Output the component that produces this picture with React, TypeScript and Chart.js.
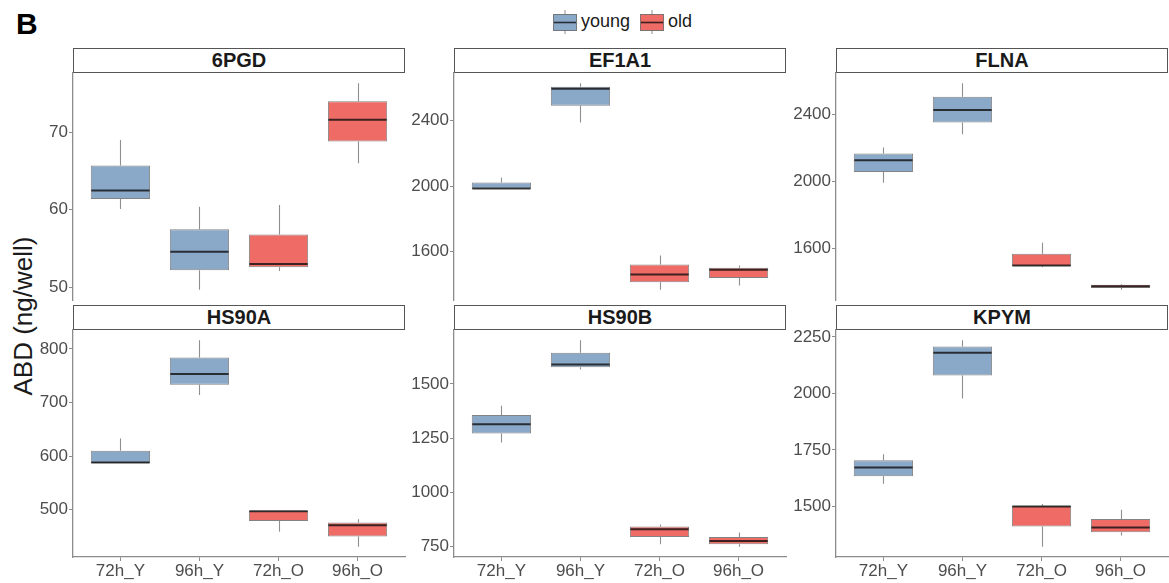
import React, { useEffect, useRef } from "react";
import { Chart, registerables } from "chart.js";

Chart.register(...registerables);

const categories = ["72h_Y", "96h_Y", "72h_O", "96h_O"];
const groupOf = ["young", "young", "old", "old"];
const genes = ["6PGD", "EF1A1", "FLNA", "HS90A", "HS90B", "KPYM"];
const legendGroups = ["young", "old"];

// per category: [lower whisker, Q1, median, Q3, upper whisker]
const box6PGD = [
  [60.1, 61.4, 62.5, 65.7, 69.0],
  [49.7, 52.2, 54.6, 57.5, 60.4],
  [52.1, 52.6, 53.0, 56.8, 60.6],
  [66.0, 68.8, 71.6, 74.0, 76.3],
];
const boxEF1A1 = [
  [1983, 1983, 1985, 2022, 2052],
  [2390, 2492, 2597, 2609, 2630],
  [1364, 1409, 1457, 1518, 1574],
  [1389, 1436, 1487, 1498, 1512],
];
const boxFLNA = [
  [1990, 2054, 2124, 2164, 2200],
  [2280, 2350, 2424, 2504, 2584],
  [1485, 1491, 1496, 1565, 1631],
  [1351, 1361, 1371, 1381, 1385],
];
const boxHS90A = [
  [587, 587, 588, 610, 633],
  [714, 733, 753, 784, 816],
  [459, 479, 497, 498, 498],
  [431, 450, 471, 476, 482],
];
const boxHS90B = [
  [1230, 1272, 1314, 1357, 1399],
  [1567, 1577, 1590, 1644, 1701],
  [761, 795, 830, 843, 852],
  [750, 761, 776, 795, 815],
];
const boxKPYM = [
  [1600, 1634, 1672, 1704, 1731],
  [1978, 2079, 2180, 2208, 2235],
  [1322, 1411, 1500, 1503, 1511],
  [1371, 1386, 1407, 1445, 1485],
];

const ticks6PGD = [50, 60, 70];
const ticksEF1A1 = [1600, 2000, 2400];
const ticksFLNA = [1600, 2000, 2400];
const ticksHS90A = [500, 600, 700, 800];
const ticksHS90B = [750, 1000, 1250, 1500];
const ticksKPYM = [1500, 1750, 2000, 2250];

const allStats = [box6PGD, boxEF1A1, boxFLNA, boxHS90A, boxHS90B, boxKPYM];
const allTicks = [ticks6PGD, ticksEF1A1, ticksFLNA, ticksHS90A, ticksHS90B, ticksKPYM];

const FILL: Record<string, string> = { young: "#8AA8C8", old: "#EE6B66" };
const FONT = "'Liberation Sans', Arial, Helvetica, sans-serif";
const AXIS_COLOR = "#8c8c8c";
const TICK_COLOR = "#4d4d4d";

const COL_LEFT = [73, 454, 836];
const PLOT_W = 332;
const STRIP_TOP = [48, 305];
const STRIP_H = 25;
const PLOT_H = 227;
const Y_AXIS_W = 50;
const PAD_V = 14;
const X_AXIS_H = 26;

Chart.defaults.font.family = FONT;

function makeBoxPlugin(stats: number[][]) {
  return {
    id: "boxWhiskers",
    beforeDatasetsDraw(chart: any) {
      const y = chart.scales.y;
      const meta = chart.getDatasetMeta(0);
      const ctx = chart.ctx;
      ctx.save();
      ctx.strokeStyle = "#8f8f8f";
      ctx.lineWidth = 1.1;
      meta.data.forEach((bar: any, i: number) => {
        const s = stats[i];
        const x = Math.round(bar.x) + 0.5;
        ctx.beginPath();
        ctx.moveTo(x, y.getPixelForValue(s[0]));
        ctx.lineTo(x, y.getPixelForValue(s[1]));
        ctx.moveTo(x, y.getPixelForValue(s[3]));
        ctx.lineTo(x, y.getPixelForValue(s[4]));
        ctx.stroke();
      });
      ctx.restore();
    },
    afterDatasetsDraw(chart: any) {
      const y = chart.scales.y;
      const meta = chart.getDatasetMeta(0);
      const ctx = chart.ctx;
      ctx.save();
      ctx.strokeStyle = "rgba(15,15,15,0.8)";
      ctx.lineWidth = 2;
      meta.data.forEach((bar: any, i: number) => {
        const s = stats[i];
        const py = y.getPixelForValue(s[2]);
        ctx.beginPath();
        ctx.moveTo(bar.x - bar.width / 2 + 0.5, py);
        ctx.lineTo(bar.x + bar.width / 2 - 0.5, py);
        ctx.stroke();
      });
      ctx.restore();
    },
  };
}

function Panel(props: { idx: number; row: number; col: number }) {
  const { idx, row, col } = props;
  const ref = useRef<HTMLCanvasElement>(null);
  const showX = row === 1;
  const stats = allStats[idx];
  const ticks = allTicks[idx];
  const plotTop = STRIP_TOP[row] + STRIP_H;
  const width = Y_AXIS_W + PLOT_W + 3;
  const height = PAD_V + PLOT_H + (showX ? X_AXIS_H : PAD_V);

  useEffect(() => {
    if (!ref.current) return;
    const lo = Math.min(...stats.map((s) => s[0]));
    const hi = Math.max(...stats.map((s) => s[4]));
    const pad = (hi - lo) * 0.05;
    const chart = new Chart(ref.current, {
      type: "bar",
      data: {
        datasets: [
          {
            data: stats.map((s, i) => ({ x: i, y: [s[1], s[3]] })) as any,
            backgroundColor: groupOf.map((g) => FILL[g]),
            borderColor: "rgba(90,90,90,0.75)",
            borderWidth: 1,
            borderSkipped: false,
            barPercentage: 0.75,
            categoryPercentage: 1,
          } as any,
        ],
      },
      options: {
        animation: false,
        responsive: false,
        maintainAspectRatio: false,
        layout: { padding: { top: PAD_V, bottom: showX ? 0 : PAD_V, left: 0, right: 3 } },
        plugins: { legend: { display: false }, tooltip: { enabled: false } },
        scales: {
          x: {
            type: "linear",
            min: -0.6,
            max: 3.6,
            offset: false,
            display: showX,
            afterBuildTicks: (s: any) => {
              s.ticks = categories.map((_, i) => ({ value: i }));
            },
            afterFit: (s: any) => {
              s.height = showX ? X_AXIS_H : 0;
            },
            ticks: {
              callback: (v: any) => categories[v] ?? "",
              color: TICK_COLOR,
              font: { size: 17, family: FONT },
              padding: 0,
              autoSkip: false,
              maxRotation: 0,
            },
            grid: {
              display: true,
              offset: false,
              drawOnChartArea: false,
              drawTicks: true,
              tickLength: 4,
              color: AXIS_COLOR,
            },
            border: { display: true, color: AXIS_COLOR, width: 1.3 },
          },
          y: {
            type: "linear",
            min: lo - pad,
            max: hi + pad,
            afterBuildTicks: (s: any) => {
              s.ticks = ticks.map((v) => ({ value: v }));
            },
            afterFit: (s: any) => {
              s.width = Y_AXIS_W;
            },
            ticks: {
              callback: (v: any) => String(v),
              color: TICK_COLOR,
              font: { size: 17, family: FONT },
              padding: 1,
              autoSkip: false,
            },
            grid: {
              display: true,
              drawOnChartArea: false,
              drawTicks: true,
              tickLength: 4,
              color: AXIS_COLOR,
            },
            border: { display: true, color: AXIS_COLOR, width: 1.3 },
          },
        },
      } as any,
      plugins: [makeBoxPlugin(stats)],
    });
    return () => chart.destroy();
  }, []);

  return (
    <>
      <div
        style={{
          position: "absolute",
          left: COL_LEFT[col],
          top: STRIP_TOP[row],
          width: PLOT_W,
          height: STRIP_H,
          boxSizing: "border-box",
          border: "1px solid #555",
          background: "#fff",
          fontFamily: FONT,
          fontWeight: 700,
          fontSize: 20,
          lineHeight: "23px",
          textAlign: "center",
          color: "#1a1a1a",
        }}
      >
        {genes[idx]}
      </div>
      <canvas
        ref={ref}
        width={width}
        height={height}
        style={{
          position: "absolute",
          left: COL_LEFT[col] - Y_AXIS_W,
          top: plotTop - PAD_V,
          width,
          height,
        }}
      />
    </>
  );
}

function LegendGlyph(props: { color: string; left: number }) {
  return (
    <svg
      width={24}
      height={24}
      style={{ position: "absolute", left: props.left, top: 10 }}
      viewBox="0 0 24 24"
    >
      <line x1={12} y1={0} x2={12} y2={24} stroke="#8f8f8f" strokeWidth={1} />
      <rect x={0.5} y={4.5} width={23} height={16} fill={props.color} stroke="rgba(90,90,90,0.75)" strokeWidth={1} />
      <line x1={1} y1={12.5} x2={23} y2={12.5} stroke="rgba(15,15,15,0.8)" strokeWidth={1.6} />
    </svg>
  );
}

export default function App() {
  const glyphLeft = [553, 640];
  const textLeft = [581, 668];
  return (
    <div
      style={{
        position: "absolute",
        left: 0,
        top: 0,
        width: 1169,
        height: 583,
        background: "#fff",
        overflow: "hidden",
        fontFamily: FONT,
      }}
    >
      <div
        style={{
          position: "absolute",
          left: 16,
          top: 9,
          fontSize: 30,
          lineHeight: "30px",
          fontWeight: 700,
          color: "#000",
        }}
      >
        B
      </div>
      {legendGroups.map((g, i) => (
        <React.Fragment key={g}>
          <LegendGlyph color={FILL[g]} left={glyphLeft[i]} />
          <div
            style={{
              position: "absolute",
              left: textLeft[i],
              top: 12,
              fontSize: 18,
              lineHeight: "18px",
              color: "#1a1a1a",
              whiteSpace: "nowrap",
            }}
          >
            {g}
          </div>
        </React.Fragment>
      ))}
      <div
        style={{
          position: "absolute",
          left: 22.5,
          top: 316,
          transform: "translate(-50%, -50%) rotate(-90deg)",
          fontSize: 26,
          lineHeight: "26px",
          whiteSpace: "nowrap",
          color: "#1a1a1a",
        }}
      >
        ABD (ng/well)
      </div>
      {genes.map((_, idx) => (
        <Panel key={idx} idx={idx} row={Math.floor(idx / 3)} col={idx % 3} />
      ))}
    </div>
  );
}
